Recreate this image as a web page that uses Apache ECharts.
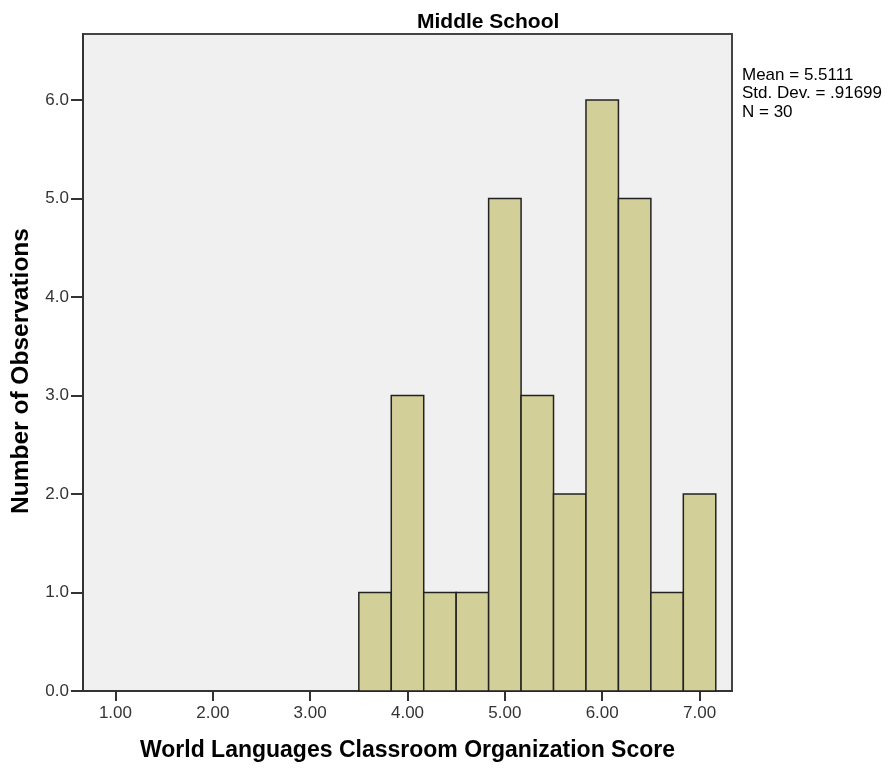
<!DOCTYPE html>
<html>
<head>
<meta charset="utf-8">
<script src="https://cdn.jsdelivr.net/npm/echarts@6/dist/echarts.min.js"></script>
<style>
  html, body { margin: 0; padding: 0; background: #fff; }
  #chart { width: 889px; height: 768px; }
</style>
</head>
<body>
<div id="chart"></div>
<script>
// Histogram bins: lower edge, upper edge, count
var binLow  = [3.5, 3.8333, 4.1667, 4.5, 4.8333, 5.1667, 5.5, 5.8333, 6.1667, 6.5, 6.8333];
var binHigh = [3.8333, 4.1667, 4.5, 4.8333, 5.1667, 5.5, 5.8333, 6.1667, 6.5, 6.8333, 7.1667];
var counts  = [1, 3, 1, 1, 5, 3, 2, 6, 5, 1, 2];

var xTicks = [1, 2, 3, 4, 5, 6, 7];
var yTicks = [0, 1, 2, 3, 4, 5, 6];

var statsLines = ['Mean = 5.5111', 'Std. Dev. = .91699', 'N = 30'];

var chart = echarts.init(document.getElementById('chart'), null, { renderer: 'canvas' });

var data = counts.map(function (c, i) { return [binLow[i], binHigh[i], c]; });

var option = {
  animation: false,
  backgroundColor: '#ffffff',
  title: {
    text: 'Middle School',
    left: 412,
    top: 7,
    textStyle: { fontFamily: 'Arial, Liberation Sans, sans-serif', fontWeight: 'bold', fontSize: 21, color: '#000' }
  },
  grid: {
    left: 83, right: 157, top: 34, bottom: 77,
    show: true,
    backgroundColor: '#f0f0f0',
    borderColor: '#444',
    borderWidth: 2
  },
  xAxis: {
    type: 'value',
    min: 0.6667,
    max: 7.3333,
    name: 'World Languages Classroom Organization Score',
    nameLocation: 'middle',
    nameGap: 48,
    nameTextStyle: { fontFamily: 'Arial, Liberation Sans, sans-serif', fontWeight: 'bold', fontSize: 23, color: '#000' },
    splitLine: { show: false },
    axisLine: { show: true, lineStyle: { color: '#333', width: 2 } },
    axisTick: { show: true, customValues: xTicks, length: 10, lineStyle: { color: '#333', width: 2 } },
    axisLabel: {
      customValues: xTicks,
      formatter: function (v) { return v.toFixed(2); },
      margin: 14,
      fontFamily: 'Arial, Liberation Sans, sans-serif', fontSize: 17, color: '#333'
    }
  },
  yAxis: {
    type: 'value',
    min: 0,
    max: 6.67,
    splitLine: { show: false },
    axisLine: { show: true, lineStyle: { color: '#333', width: 2 } },
    axisTick: { show: true, customValues: yTicks, length: 12, lineStyle: { color: '#333', width: 2 } },
    axisLabel: {
      customValues: yTicks,
      formatter: function (v) { return v.toFixed(1); },
      margin: 14,
      fontFamily: 'Arial, Liberation Sans, sans-serif', fontSize: 17, color: '#333'
    }
  },
  series: [{
    type: 'custom',
    data: data,
    encode: { x: [0, 1], y: 2 },
    renderItem: function (params, api) {
      var p0 = api.coord([api.value(0), api.value(2)]);
      var p1 = api.coord([api.value(1), 0]);
      return {
        type: 'rect',
        shape: { x: p0[0], y: p0[1], width: p1[0] - p0[0], height: p1[1] - p0[1] },
        style: { fill: '#d3cf98', stroke: '#222', lineWidth: 1.5 }
      };
    }
  }],
  graphic: [{
    // vertical axis title
    type: 'text',
    x: 21,
    y: 371,
    rotation: Math.PI / 2,
    style: {
      text: 'Number of Observations',
      font: 'bold 24.5px Arial, "Liberation Sans", sans-serif',
      textAlign: 'center',
      textVerticalAlign: 'middle',
      fill: '#000'
    }
  }, {
    // summary statistics
    type: 'text',
    left: 742,
    top: 66,
    style: {
      text: statsLines.join('\n'),
      font: '17px Arial, "Liberation Sans", sans-serif',
      lineHeight: 18.5,
      fill: '#000'
    }
  }]
};

chart.setOption(option);
</script>
</body>
</html>
